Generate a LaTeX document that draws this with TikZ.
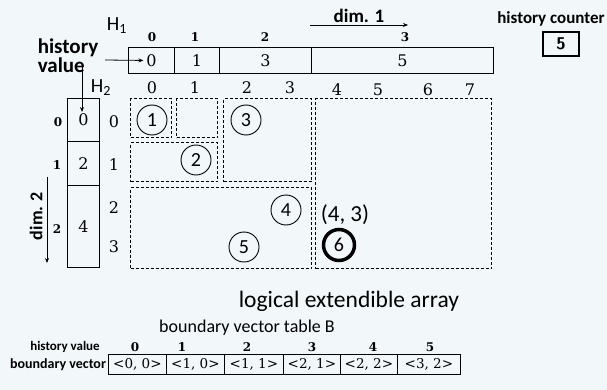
\documentclass[tikz,border=0pt]{standalone}
\usepackage{fontspec}
\newfontfamily\carl{Carlito}
\newfontfamily\dser{DejaVu Serif}
\usetikzlibrary{arrows.meta}
\definecolor{bgc}{RGB}{242,247,250}
\tikzset{
  x=1pt, y=-1pt,
  solidbox/.style={draw, line width=0.9pt, inner sep=0pt, anchor=north west,
    font=\dser\fontsize{16}{16}\selectfont},
  dbox/.style={draw, line width=1.4pt, densely dashed, inner sep=0pt, anchor=north west},
  numlab/.style={inner sep=0pt, font=\dser\fontsize{16}{16}\selectfont},
  smallnum/.style={inner sep=0pt, font=\dser\bfseries\fontsize{12}{12}\selectfont},
  circ/.style={draw, circle, line width=0.9pt, minimum size=30pt, inner sep=0pt,
    font=\carl\fontsize{20}{20}\selectfont},
  sanslab/.style={inner sep=0pt, font=\carl\bfseries\fontsize{15}{15}\selectfont},
  tcell/.style={draw, line width=0.8pt, inner sep=0pt, anchor=north west,
    minimum height=20pt, font=\dser\fontsize{13.5}{14}\selectfont},
  arr/.style={-{Stealth[length=5pt,width=4pt]}, line width=0.8pt},
}
\begin{document}
\begin{tikzpicture}
\fill[bgc] (0,0) rectangle (607,390);
\useasboundingbox (0,0) rectangle (607,390);

% H1
\node[inner sep=0pt, font=\carl\fontsize{20}{20}\selectfont] (H1) at (117,26) {H\textsubscript{1}};
\node[solidbox, minimum width=46pt, minimum height=26pt] (h10) at (128,47) {0};
\node[solidbox, minimum width=45pt, minimum height=26pt] (h11) at (174,47) {1};
\node[solidbox, minimum width=92pt, minimum height=26pt] (h12) at (219,47) {3};
\node[solidbox, minimum width=182pt, minimum height=26pt] (h13) at (311,47) {5};
\node[smallnum] (t0) at (152,37) {0};
\node[smallnum] (t1) at (195,37) {1};
\node[smallnum] (t2) at (265,37) {2};
\node[smallnum] (t3) at (405,37) {3};

% dim 1
\coordinate (d1a) at (310,25);
\coordinate (d1b) at (408,25);
\draw[arr] (d1a) -- (d1b);
\node[sanslab, font=\carl\bfseries\fontsize{19}{19}\selectfont] (d1) at (359,16) {dim. 1};

% history counter
\node[sanslab, font=\carl\bfseries\fontsize{17}{17}\selectfont] (hc) at (551,19) {history counter};
\node[draw, line width=1.1pt, minimum width=36pt, minimum height=24pt, inner sep=0pt,
  font=\sffamily\bfseries\fontsize{17}{17}\selectfont] (hcv) at (561,44) {5};

% history value
\node[inner sep=0pt, align=left, font=\carl\bfseries\fontsize{21}{14}\selectfont] (hv) at (68,56) {history\\value};
\draw[arr] (105,60) -- ([xshift=-8pt]h10.center);
\draw[arr] (82,67) -- (82,112);

% H2
\node[inner sep=0pt, font=\carl\fontsize{20}{20}\selectfont] (H2) at (101,88) {H\textsubscript{2}};
\node[solidbox, minimum width=32pt, minimum height=43pt] (h20) at (67,98) {0};
\node[solidbox, minimum width=32pt, minimum height=44pt] (h21) at (67,141) {2};
\node[solidbox, minimum width=32pt, minimum height=82pt] (h22) at (67,185) {4};
\node[smallnum] (l0) at (58,122) {0};
\node[smallnum] (l1) at (57,165) {1};
\node[smallnum] (l2) at (57,229) {2};
\node[numlab] (r0) at (114,122) {0};
\node[numlab] (r1) at (114,165) {1};
\node[numlab] (r2) at (114,208) {2};
\node[numlab] (r3) at (114,247) {3};

% dim 2
\coordinate (d2a) at (47,177);
\coordinate (d2b) at (47,263);
\draw[arr] (d2a) -- (d2b);
\node[sanslab, rotate=90, font=\carl\bfseries\fontsize{18}{18}\selectfont] (d2) at (36,216) {dim. 2};

% column headers
\node[numlab] (c0) at (152,88) {0};
\node[numlab] (c1) at (195,88) {1};
\node[numlab] (c2) at (247,88) {2};
\node[numlab] (c3) at (290,88) {3};
\node[numlab] (c4) at (337,90) {4};
\node[numlab] (c5) at (378,90) {5};
\node[numlab] (c6) at (428,90) {6};
\node[numlab] (c7) at (470,90) {7};

% logical array blocks
\node[dbox, minimum width=41pt, minimum height=39pt] (a1) at (130,98) {};
\node[dbox, minimum width=41pt, minimum height=39pt] (ae) at (176,98) {};
\node[dbox, minimum width=87pt, minimum height=39pt] (a2) at (130,142) {};
\node[dbox, minimum width=88pt, minimum height=83pt] (a3) at (223,98) {};
\node[dbox, minimum width=181pt, minimum height=81pt] (a45) at (130,187) {};
\node[dbox, minimum width=176pt, minimum height=170pt] (a6) at (315,98) {};

\node[circ] (k1) at (152,120) {1};
\node[circ] (k2) at (196,160) {2};
\node[circ] (k3) at (246,120) {3};
\node[circ] (k4) at (286,210) {4};
\node[circ] (k5) at (244,247) {5};
\node[circ, line width=3.5pt, minimum size=31pt] (k6) at (339,245) {6};
\node[inner sep=0pt, font=\carl\fontsize{23}{23}\selectfont] (p43) at (345,215) {(4, 3)};

\node[inner sep=0pt, font=\carl\fontsize{23.5}{23.5}\selectfont] (lea) at (349,301) {logical extendible array};

% boundary vector table
\node[inner sep=0pt, font=\carl\fontsize{18}{18}\selectfont] (bvt) at (247,328) {boundary vector table B};
\node[sanslab, font=\carl\bfseries\fontsize{13}{13}\selectfont] (hvb) at (65,347) {history value};
\node[sanslab, font=\carl\bfseries\fontsize{14}{14}\selectfont] (bvl) at (58,365) {boundary vector};
\node[smallnum] (b0) at (135,347) {0};
\node[smallnum] (b1) at (182,347) {1};
\node[smallnum] (b2) at (247,347) {2};
\node[smallnum] (b3) at (312,347) {3};
\node[smallnum] (b4) at (373,347) {4};
\node[smallnum] (b5) at (430,347) {5};
\node[tcell, minimum width=58pt] (v0) at (108,354) {<0, 0>};
\node[tcell, minimum width=58pt] (v1) at (166,354) {<1, 0>};
\node[tcell, minimum width=59pt] (v2) at (224,354) {<1, 1>};
\node[tcell, minimum width=57pt] (v3) at (283,354) {<2, 1>};
\node[tcell, minimum width=57pt] (v4) at (340,354) {<2, 2>};
\node[tcell, minimum width=63pt] (v5) at (397,354) {<3, 2>};
\end{tikzpicture}
\end{document}
